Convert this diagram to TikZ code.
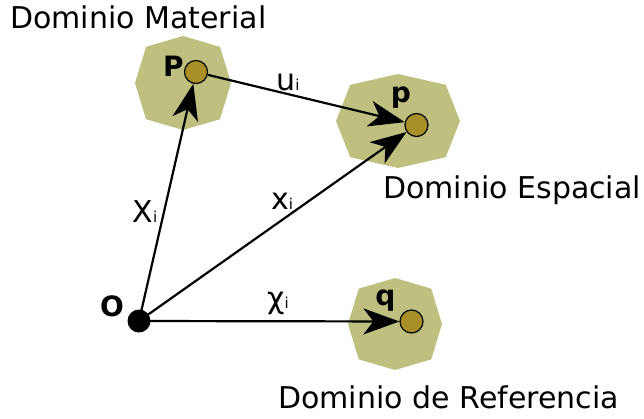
\documentclass[tikz,border=0pt]{standalone}
\usepackage{fontspec}
\setmainfont{DejaVu Sans}
\usetikzlibrary{arrows.meta}
\definecolor{domfill}{RGB}{191,191,128}
\definecolor{ptfill}{RGB}{168,143,40}
\newcommand{\myocta}[4]{%
  \fill[domfill] ({#1+#3},#2) -- ({#1+0.77*#3},{#2-0.77*#4}) -- (#1,{#2-#4}) -- ({#1-0.77*#3},{#2-0.77*#4}) -- ({#1-#3},#2) -- ({#1-0.77*#3},{#2+0.77*#4}) -- (#1,{#2+#4}) -- ({#1+0.77*#3},{#2+0.77*#4}) -- cycle;}
\newcommand{\sub}{\fontsize{15}{15}\selectfont i}
\tikzset{
  domlabel/.style={anchor=base west, inner sep=0pt, font=\fontsize{30}{35}\selectfont},
  ptlabel/.style={inner sep=0pt, font=\fontsize{28}{32}\selectfont\bfseries},
  veclabel/.style={inner sep=0pt, font=\fontsize{30}{34}\selectfont},
  pt/.style={circle, draw=black, line width=1.2pt, fill=ptfill, minimum size=23pt, inner sep=0pt},
  origin/.style={circle, fill=black, minimum size=23pt, inner sep=0pt},
  vec/.style={line width=2.2pt, -{Stealth[length=36pt,width=26pt,inset=10pt]}}
}
\begin{document}
\begin{tikzpicture}[x=1pt,y=-1pt]
\useasboundingbox (0,0) rectangle (644,418);
\myocta{183}{83}{48}{47}
\myocta{398}{121}{62}{47}
\myocta{395}{324}{47}{46}
\node[pt] (P) at (196,72) {};
\node[pt] (p) at (416.5,125) {};
\node[pt] (q) at (411.5,321.5) {};
\node[origin] (O) at (139,321) {};
\node[ptlabel] (Pl) at (173.5,66) {P};
\node[ptlabel] (pl) at (401,98) {p};
\node[ptlabel] (ql) at (385.5,301) {q};
\node[ptlabel] (Ol) at (112,306.5) {O};
\draw[vec] (O.center) -- (P);
\draw[vec] (O.center) -- (p);
\draw[vec] (O.center) -- (q);
\draw[vec] (P) -- (p);
\node[veclabel] (ul) at (288,82) {u\sub};
\node[veclabel] (Xl) at (145,212) {X\sub};
\node[veclabel] (xl) at (282,201) {x\sub};
\node[veclabel] (chil) at (278,303) {χ\sub};
\node[domlabel] (dm) at (10,28) {Dominio Material};
\node[domlabel] (de) at (383,198) {Dominio Espacial};
\node[domlabel] (dr) at (278,408) {Dominio de Referencia};
\end{tikzpicture}
\end{document}
